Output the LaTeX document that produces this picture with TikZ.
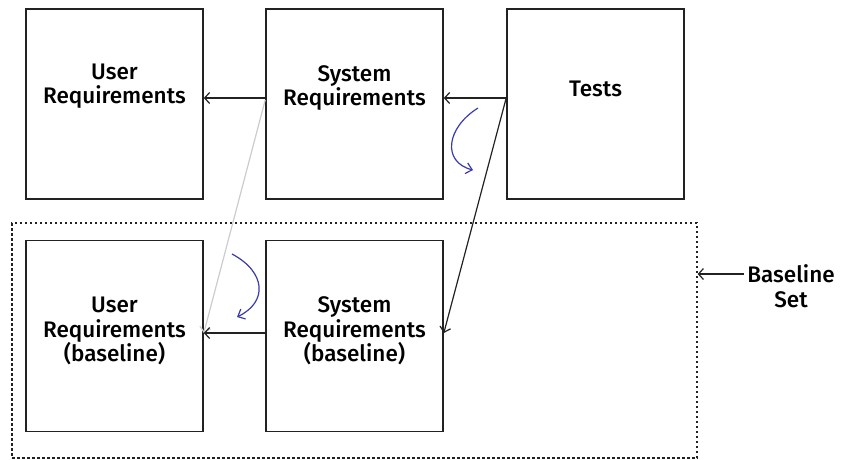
\documentclass[tikz,border=0pt]{standalone}
\usepackage{fontspec}
\setmainfont{Fira Sans}[UprightFont=* Medium]
\usetikzlibrary{arrows.meta}
\definecolor{boxline}{HTML}{222222}
\definecolor{curveblue}{HTML}{3A3AB0}
\definecolor{lightline}{HTML}{CCCCCC}
\tikzset{
  reqbox/.style={draw=boxline, line width=1.6pt, minimum width=177pt, inner sep=0pt},
  lbl/.style={align=center, font=\fontsize{22.5}{24.5}\selectfont, inner sep=0pt},
  conn/.style={draw=boxline, line width=1.2pt, -{Straight Barb[length=5pt,width=11pt,line width=1.2pt]}},
  greyconn/.style={draw=lightline, line width=1.2pt, -{Straight Barb[length=5pt,width=11pt,line width=1.2pt]}},
  bluecurve/.style={draw=curveblue, line width=1.2pt, -{Straight Barb[length=6pt,width=11pt,line width=1.2pt]}},
  setbox/.style={draw=boxline, line width=1.3pt, dash pattern=on 2.5pt off 2.5pt, inner sep=0pt}
}
\begin{document}
\begin{tikzpicture}[x=1pt,y=-1pt]
\useasboundingbox (0,0) rectangle (845,459);
% dotted baseline set
\node[setbox, minimum width=685pt, minimum height=235pt] (bset) at (354.5,340.5) {};
% boxes
\node[reqbox, minimum height=190pt] (ur) at (114.5,104) {};
\node[reqbox, minimum height=190pt] (sr) at (354.5,104) {};
\node[reqbox, minimum height=190pt] (t) at (595.5,104) {};
\node[reqbox, minimum height=191pt] (ub) at (114.5,336) {};
\node[reqbox, minimum height=191pt] (sb) at (354.5,336) {};
% labels
\node[lbl] (urt) at (114.5,86) {User\\Requirements};
\node[lbl] (srt) at (354.5,88) {System\\Requirements};
\node[lbl] (tt) at (595.5,89) {Tests};
\node[lbl] (ubt) at (114.5,331) {User\\Requirements\\(baseline)};
\node[lbl] (sbt) at (354.5,331) {System\\Requirements\\(baseline)};
\node[lbl] (bs) at (791,286) {Baseline\\Set};
\coordinate (bsl) at (744,274);
% connectors
\draw[greyconn] ([yshift=4pt]sr.west) -- ([yshift=3pt]ub.east);
\draw[conn] ([yshift=6pt]sr.west) -- ([yshift=6pt]ur.east);
\draw[conn] ([yshift=6pt]t.west) -- ([yshift=6pt]sr.east);
\draw[conn] ([yshift=6pt]t.west) -- ([yshift=3pt]sb.east);
\draw[conn] ([yshift=3pt]sb.west) -- ([yshift=3pt]ub.east);
\draw[conn] (bsl) -- (bsl -| bset.east);
% blue curved arrows
\draw[bluecurve] (478,108) .. controls (446,128) and (442,162) .. (473,170);
\draw[bluecurve] (232,254) .. controls (266,272) and (268,302) .. (237,317);
\end{tikzpicture}
\end{document}
